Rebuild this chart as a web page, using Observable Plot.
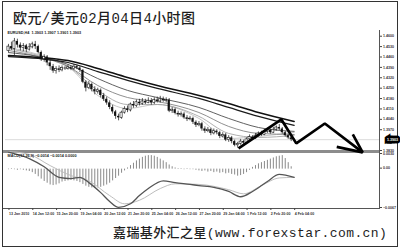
<!DOCTYPE html>
<html>
<head>
<meta charset="utf-8">
<script src="https://cdn.jsdelivr.net/npm/d3@7"></script>
<script src="https://cdn.jsdelivr.net/npm/@observablehq/plot@0.6"></script>
<style>
  html, body { margin: 0; padding: 0; background: #fff; }
  #wrap { position: relative; width: 400px; height: 249px; overflow: hidden; background: #fff; }
  #wrap > * { position: absolute; }
  #frame { left: 2px; top: 1px; width: 396px; height: 246px; border: 1px solid #333; box-sizing: border-box; }
  #title { left: 13px; top: 11px; font: 500 14px/16px "Liberation Mono", "Noto Sans CJK SC", monospace; letter-spacing: 0.4px; color: #1e1e1e; white-space: nowrap; }
  #caption { left: 113px; top: 226px; font: 500 13px/16px "Liberation Mono", "Noto Sans CJK SC", monospace; letter-spacing: 0.4px; color: #1e1e1e; white-space: nowrap; }
</style>
</head>
<body>
<div id="wrap">
  <div id="frame"></div>
  <div id="title">欧元/美元02月04日4小时图</div>
  <div id="sep" style="left:3px;top:150px;width:376px;height:2.5px;background:#8c8c8c;"></div>
  <div id="raxis" style="left:379px;top:30px;width:1px;height:178px;background:#555;"></div>
  <div id="bottom" style="left:3px;top:208px;width:377px;height:1px;background:#555;"></div>
  <div id="macd"></div>
  <div id="main"></div>
  <div id="caption">嘉瑞基外汇之星(www.forexstar.com.cn)</div>
</div>
<script>
// EURUSD H4 bars, 13 Jan 2010 04:00 .. 4 Feb 2010 04:00
const open = [1.4500,1.4530,1.4515,1.4565,1.4540,1.4520,1.4535,1.4510,1.4525,1.4545,1.4530,
  1.4490,1.4445,1.4460,1.4420,1.4395,1.4365,1.4380,
  1.4370,1.4385,1.4380,1.4390,1.4378,1.4395,1.4385,
  1.4370,1.4290,1.4250,1.4275,1.4240,1.4225,1.4235,
  1.4200,1.4175,1.4150,1.4120,1.4090,1.4060,
  1.4050,1.4085,1.4110,1.4100,1.4140,1.4130,1.4155,
  1.4145,1.4160,1.4150,1.4165,1.4150,1.4170,1.4160,1.4175,1.4165,1.4170,
  1.4095,1.4105,1.4080,1.4070,1.4075,1.4050,1.4040,1.4045,1.4020,1.4000,1.4010,1.3975,
  1.3960,1.3970,1.3945,1.3960,1.3950,1.3925,1.3935,1.3900,1.3915,1.3890,1.3865,
  1.3875,1.3890,1.3880,1.3905,1.3920,1.3910,1.3930,1.3945,1.3935,1.3955,1.3965,1.3950,
  1.3970,1.3985,1.3975,1.3950,1.3930,1.3915,1.3903];
const high = [1.4545,1.4560,1.4585,1.4580,1.4555,1.4550,1.4545,1.4550,1.4560,1.4565,1.4540,
  1.4500,1.4475,1.4470,1.4440,1.4410,1.4395,1.4400,
  1.4400,1.4395,1.4405,1.4398,1.4410,1.4405,1.4395,
  1.4375,1.4300,1.4295,1.4285,1.4260,1.4250,1.4245,
  1.4215,1.4190,1.4165,1.4135,1.4100,1.4075,
  1.4095,1.4125,1.4130,1.4150,1.4160,1.4170,1.4175,
  1.4180,1.4175,1.4185,1.4180,1.4185,1.4190,1.4195,1.4190,1.4185,1.4180,
  1.4120,1.4115,1.4095,1.4090,1.4085,1.4065,1.4060,1.4055,1.4030,1.4025,1.4020,1.3990,
  1.3985,1.3980,1.3975,1.3970,1.3960,1.3950,1.3945,1.3930,1.3925,1.3900,1.3885,
  1.3905,1.3900,1.3915,1.3935,1.3930,1.3945,1.3955,1.3960,1.3970,1.3980,1.3975,1.3985,
  1.3995,1.4005,1.3985,1.3960,1.3940,1.3925,1.3907];
const low = [1.4490,1.4505,1.4470,1.4520,1.4500,1.4495,1.4490,1.4500,1.4515,1.4510,1.4480,
  1.4430,1.4425,1.4400,1.4370,1.4350,1.4345,1.4355,
  1.4360,1.4370,1.4372,1.4368,1.4370,1.4375,1.4355,
  1.4280,1.4225,1.4240,1.4225,1.4205,1.4210,1.4185,
  1.4160,1.4135,1.4105,1.4075,1.4040,1.4030,
  1.4040,1.4075,1.4085,1.4090,1.4115,1.4120,1.4130,
  1.4135,1.4140,1.4145,1.4135,1.4140,1.4150,1.4150,1.4155,1.4150,1.4085,
  1.4080,1.4070,1.4055,1.4055,1.4040,1.4025,1.4030,1.4005,1.3985,1.3990,1.3960,1.3945,
  1.3950,1.3930,1.3935,1.3935,1.3910,1.3915,1.3890,1.3885,1.3875,1.3855,1.3845,
  1.3865,1.3868,1.3872,1.3895,1.3898,1.3905,1.3920,1.3925,1.3930,1.3945,1.3940,1.3945,
  1.3960,1.3965,1.3940,1.3920,1.3905,1.3890,1.3901];
const close = [1.4530,1.4515,1.4565,1.4540,1.4520,1.4535,1.4510,1.4525,1.4545,1.4530,1.4490,
  1.4445,1.4460,1.4420,1.4395,1.4365,1.4380,1.4370,
  1.4385,1.4380,1.4390,1.4378,1.4395,1.4385,1.4370,
  1.4290,1.4250,1.4275,1.4240,1.4225,1.4235,1.4200,
  1.4175,1.4150,1.4120,1.4090,1.4060,1.4050,
  1.4085,1.4110,1.4100,1.4140,1.4130,1.4155,1.4145,
  1.4160,1.4150,1.4165,1.4150,1.4170,1.4160,1.4175,1.4165,1.4170,1.4095,
  1.4105,1.4080,1.4070,1.4075,1.4050,1.4040,1.4045,1.4020,1.4000,1.4010,1.3975,1.3960,
  1.3970,1.3945,1.3960,1.3950,1.3925,1.3935,1.3900,1.3915,1.3890,1.3865,1.3875,
  1.3890,1.3880,1.3905,1.3920,1.3910,1.3930,1.3945,1.3935,1.3955,1.3965,1.3950,1.3970,
  1.3985,1.3975,1.3950,1.3930,1.3915,1.3903,1.3903];

// time-axis labels, one every 8 bars
const labelBars = [0, 8, 16, 24, 32, 40, 48, 56, 64, 72, 80, 88, 96];
const xLabels = ["13 Jan 2010", "14 Jan 12:00", "15 Jan 20:00", "19 Jan 04:00", "20 Jan 12:00",
  "21 Jan 20:00", "25 Jan 04:00", "26 Jan 12:00", "27 Jan 20:00", "29 Jan 04:00",
  "1 Feb 12:00", "2 Feb 20:00", "4 Feb 04:00"];

// price scale
const priceTicks = [1.4600, 1.4530, 1.4460, 1.4390, 1.4320, 1.4250, 1.4180, 1.4110, 1.4040, 1.3970, 1.3830];
const priceMin = 1.3830, priceMax = 1.4652;

// moving-average ribbon, sampled at these bars (slowest first)
const maBars = [0, 10, 20, 30, 40, 50, 64, 74, 84, 96];
const maSlowA = [1.4470, 1.4457, 1.4436, 1.4383, 1.4322, 1.4268, 1.4201, 1.4147, 1.4086, 1.4026];
const maSlowB = [1.4463, 1.4450, 1.4423, 1.4362, 1.4302, 1.4248, 1.4181, 1.4120, 1.4060, 1.3999];
const maMidC  = [1.4490, 1.4463, 1.4410, 1.4315, 1.4235, 1.4187, 1.4120, 1.4046, 1.3985, 1.3959];
const maMidD  = [1.4504, 1.4463, 1.4396, 1.4268, 1.4187, 1.4160, 1.4086, 1.3992, 1.3945, 1.3938];
const maFastE = [1.4517, 1.4470, 1.4396, 1.4235, 1.4140, 1.4140, 1.4060, 1.3945, 1.3918, 1.3932];
const maFastF = [1.4524, 1.4477, 1.4396, 1.4201, 1.4113, 1.4140, 1.4046, 1.3911, 1.3925, 1.3952];

// MACD(12,26,9) histogram, one value per bar
const macdHist = [-0.0001, 0.0001, -0.0001, -0.0002, -0.0001, -0.0002, -0.0003, -0.0004,
  -0.0006, -0.0009, -0.0013, -0.0017, -0.0021, -0.0024, -0.0027, -0.0028, -0.0027, -0.0025,
  -0.0022, -0.0021, -0.0020, -0.0019, -0.0020, -0.0021, -0.0023,
  -0.0026, -0.0029, -0.0031, -0.0032, -0.0033, -0.0032, -0.0031, -0.0029, -0.0027, -0.0024,
  -0.0020, -0.0016, -0.0012, -0.0007, -0.0003, 0.0002,
  0.0006, 0.0010, 0.0014, 0.0017, 0.0020, 0.0022, 0.0023, 0.0023, 0.0022, 0.0020, 0.0017, 0.0014, 0.0011, 0.0007, 0.0004, 0.0002,
  0.0001, 0.0001, -0.0001, 0.0001, -0.0001, -0.0001, -0.0002,
  -0.0003, -0.0004, -0.0003, -0.0005, -0.0004, -0.0006, -0.0005, -0.0007, -0.0006, -0.0008, -0.0007, -0.0009, -0.0010, -0.0012, -0.0011, -0.0009,
  -0.0006, -0.0002, 0.0003, 0.0006, 0.0009, 0.0011, 0.0013, 0.0015, 0.0017, 0.0019, 0.0021, 0.0022, 0.0023, 0.0018, 0.0011, 0.0004, 0.0000];
// MACD main and signal lines, sampled at these bars
const macdBars = [0, 7, 12, 17, 21, 24, 27, 31, 34, 37, 41, 44, 47, 52, 56, 61, 64, 69, 74, 78, 82, 87, 91, 96];
const macdMain = [0.0029, 0.0018, 0.0004, -0.0014, -0.0016, -0.0014, -0.0023, -0.0040, -0.0055, -0.0065, -0.0059, -0.0045,
  -0.0033, -0.0020, -0.0023, -0.0026, -0.0028, -0.0031, -0.0038, -0.0047, -0.0038, -0.0021, -0.0009, -0.0014];
const signalBars = [0, 7, 14, 21, 27, 34, 39, 44, 51, 56, 64, 74, 79, 85, 91, 96];
const macdSignal = [0.0030, 0.0025, 0.0006, -0.0011, -0.0020, -0.0045, -0.0059, -0.0053, -0.0033, -0.0025, -0.0026,
  -0.0035, -0.0042, -0.0028, -0.0015, -0.0014];
const macdTicks = [0.0030, 0, -0.0067];
const macdMin = -0.0067, macdMax = 0.0030;

// hand-drawn forecast: zigzag path and open arrowhead (bar position, price)
const zigBar = [77.3, 91.7, 96.7, 106.3, 119];
const zigPrice = [1.3844, 1.4039, 1.3878, 1.4012, 1.3817];
const headBar = [115.7, 119, 110.3];
const headPrice = [1.3938, 1.3817, 1.3854];

const bars = close.map((c, i) => ({i, open: open[i], high: high[i], low: low[i], close: c}));
const last = bars[bars.length - 1];
const f4 = d3.format(".4f");
const xDomain = [-1, 124.67];
const fontFamily = "Liberation Sans, Arial, sans-serif";
const pts = (xs, ys) => xs.map((x, k) => ({x, y: ys[k]}));

const maStyles = [
  [maFastF, "#b8b8b8", 0.8], [maFastE, "#9c9c9c", 0.8], [maMidD, "#7c7c7c", 0.85],
  [maMidC, "#585858", 0.95], [maSlowB, "#1c1c1c", 1.25], [maSlowA, "#111", 1.5]
];

const main = Plot.plot({
  width: 400, height: 160,
  marginTop: 28, marginBottom: 10, marginLeft: 5, marginRight: 21,
  style: {background: "transparent", overflow: "visible", fontFamily},
  x: {domain: xDomain, axis: null},
  y: {domain: [priceMin, priceMax], axis: null},
  marks: [
    Plot.ruleY([last.close], {stroke: "#c4c4c4", strokeWidth: 0.6}),
    ...maStyles.map(([vals, stroke, w]) =>
      Plot.line(pts(maBars, vals), {x: "x", y: "y", curve: "monotone-x", stroke, strokeWidth: w})),
    Plot.ruleX(bars, {x: "i", y1: "low", y2: "high", stroke: "#111", strokeWidth: 0.7}),
    Plot.rect(bars.filter(d => d.close >= d.open), {
      x1: d => d.i - 0.36, x2: d => d.i + 0.36, y1: "open", y2: "close",
      fill: "white", stroke: "#111", strokeWidth: 0.6}),
    Plot.rect(bars.filter(d => d.close < d.open), {
      x1: d => d.i - 0.36, x2: d => d.i + 0.36, y1: "open", y2: "close", fill: "#111"}),
    Plot.axisY({anchor: "right", ticks: priceTicks, tickFormat: f4, tickSize: 2, tickPadding: 1.5,
      fontSize: 3.6, fontWeight: "bold", stroke: "#444", fill: "#333"}),
    Plot.text([last.close], {y: d => d, frameAnchor: "right", dx: 7.5, text: f4, textAnchor: "start",
      fontSize: 3.6, fontWeight: "bold", fill: "white", stroke: "#000", strokeWidth: 5,
      strokeLinejoin: "miter", paintOrder: "stroke"}),
    Plot.text([`EURUSD,H4  ${f4(last.open)} ${f4(last.high)} ${f4(last.low)} ${f4(last.close)}`], {
      frameAnchor: "top-left", dx: 2, dy: 3, fontSize: 3.8, fontWeight: "bold", fill: "#222"}),
    Plot.line(pts(zigBar, zigPrice), {x: "x", y: "y", stroke: "#000", strokeWidth: 2.7,
      strokeLinejoin: "miter", strokeLinecap: "butt"}),
    Plot.line(pts(headBar, headPrice), {x: "x", y: "y", stroke: "#000", strokeWidth: 2.7,
      strokeLinejoin: "miter", strokeLinecap: "butt"})
  ]
});

const hist = macdHist.map((v, i) => ({i, v}));
const macdLast = macdMain[macdMain.length - 1], sigLast = macdSignal[macdSignal.length - 1];
const histLast = macdHist[macdHist.length - 1];
const macd = Plot.plot({
  width: 400, height: 70,
  marginTop: 1, marginBottom: 12, marginLeft: 5, marginRight: 21,
  style: {background: "transparent", overflow: "visible", fontFamily},
  x: {domain: xDomain, axis: null},
  y: {domain: [macdMin, macdMax], axis: null},
  marks: [
    Plot.ruleX(hist, {x: "i", y1: 0, y2: "v", stroke: "#8a8a8a", strokeWidth: 1}),
    Plot.line(pts(signalBars, macdSignal), {x: "x", y: "y", curve: "monotone-x", stroke: "#bdbdbd", strokeWidth: 1, clip: true}),
    Plot.line(pts(macdBars, macdMain), {x: "x", y: "y", curve: "monotone-x", stroke: "#555", strokeWidth: 1.3, clip: true}),
    Plot.text([`MACD(12,26,9) ${f4(macdLast)} ${f4(sigLast)} ${f4(histLast)}`], {
      frameAnchor: "top-left", dx: 2, dy: 3, fontSize: 3.8, fontWeight: "bold", fill: "#222"}),
    Plot.axisY({anchor: "right", ticks: macdTicks.slice(0, 1), tickFormat: f4, tickSize: 2, tickPadding: 1.5, dy: 2,
      fontSize: 3.6, fontWeight: "bold", stroke: "#444", fill: "#333"}),
    Plot.axisY({anchor: "right", ticks: macdTicks.slice(1), tickFormat: d => d === 0 ? "0.00" : f4(d),
      tickSize: 2, tickPadding: 1.5, dy: -1, fontSize: 3.6, fontWeight: "bold", stroke: "#444", fill: "#333"}),
    Plot.axisX({ticks: labelBars, tickFormat: d => xLabels[labelBars.indexOf(d)], tickSize: 2, tickPadding: 1.5,
      textAnchor: "start", dx: 0.5, fontSize: 3.6, fontWeight: "bold", stroke: "#444", fill: "#333"})
  ]
});

const mainHost = document.getElementById("main");
mainHost.style.left = "0px"; mainHost.style.top = "0px";
mainHost.appendChild(main);
const macdHost = document.getElementById("macd");
macdHost.style.left = "0px"; macdHost.style.top = "150px";
macdHost.appendChild(macd);
</script>
</body>
</html>
